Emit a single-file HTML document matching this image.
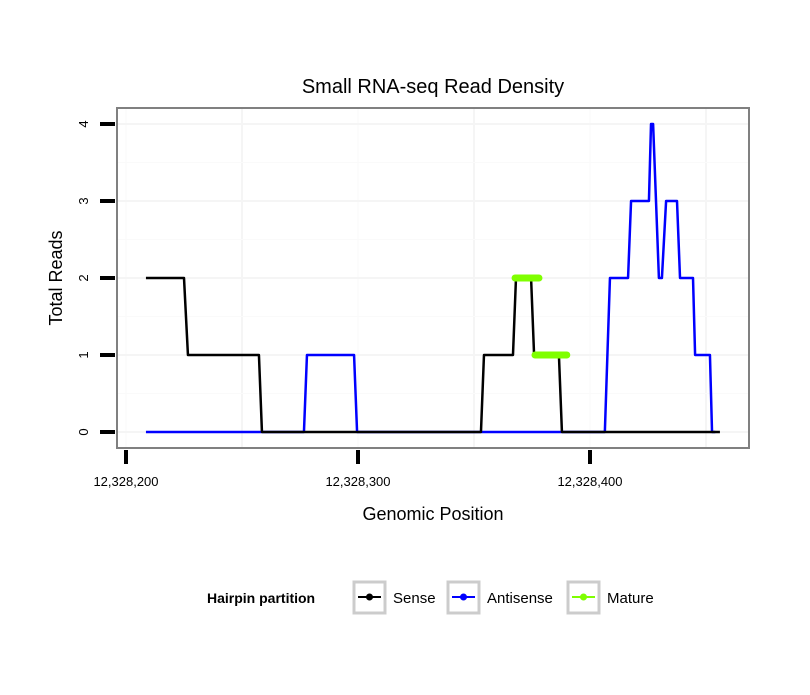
<!DOCTYPE html>
<html><head><meta charset="utf-8"><style>
body{margin:0;background:#fff;font-family:"Liberation Sans",sans-serif}
</style></head><body>
<svg id="chart" width="810" height="690" xmlns="http://www.w3.org/2000/svg" font-family="Liberation Sans, sans-serif">
<rect width="810" height="690" fill="#fff"/>
<text x="433" y="93" text-anchor="middle" font-size="20">Small RNA-seq Read Density</text>
<g id="grid"></g>
<g id="series"></g>
<rect x="117" y="108" width="632" height="340" fill="none" stroke="#808080" stroke-width="2"/>
<g id="axes"></g>
<text x="433" y="520" text-anchor="middle" font-size="18">Genomic Position</text>
<text transform="translate(62,278) rotate(-90)" text-anchor="middle" font-size="18">Total Reads</text>
<g>
<text x="207" y="603" font-size="14" font-weight="bold">Hairpin partition</text>
<g>
<rect x="354" y="582" width="31" height="31" fill="#fff" stroke="#ccc" stroke-width="3"/>
<line x1="358" y1="597" x2="381" y2="597" stroke="#000" stroke-width="2"/><circle cx="369.5" cy="597" r="3.5" fill="#000"/>
<text x="393" y="603" font-size="15">Sense</text></g>
<g>
<rect x="448" y="582" width="31" height="31" fill="#fff" stroke="#ccc" stroke-width="3"/>
<line x1="452" y1="597" x2="475" y2="597" stroke="#00f" stroke-width="2"/><circle cx="463.5" cy="597" r="3.5" fill="#00f"/>
<text x="487" y="603" font-size="15">Antisense</text></g>
<g>
<rect x="568" y="582" width="31" height="31" fill="#fff" stroke="#ccc" stroke-width="3"/>
<line x1="572" y1="597" x2="595" y2="597" stroke="#7fff00" stroke-width="2"/><circle cx="583.5" cy="597" r="3.5" fill="#7fff00"/>
<text x="607" y="603" font-size="15">Mature</text></g>
</g>
</svg>
<script>
const senseX=[208.6,225,226.7,257.3,258.6,353,354.3,366.8,368.1,374.6,375.9,386.6,387.9,456];
const senseY=[2,2,1,1,0,0,1,1,2,2,1,1,0,0];
const antiX=[208.6,276.7,278,298.3,299.6,406.4,408.6,416.4,417.7,425.4,426.3,427.2,429.7,431,432.8,437.5,438.8,444.4,445.3,451.7,452.6,454];
const antiY=[0,0,1,1,0,0,2,2,3,3,4,4,2,2,3,3,2,2,1,1,0,0];
const matureSegs=[[367.7,378,2],[376.3,390,1]];
const xTicks=[12328200,12328300,12328400];
const xTickLabels=["12,328,200","12,328,300","12,328,400"];
const yTicks=[0,1,2,3,4];
const NS="http://www.w3.org/2000/svg";
const sx=v=>126+(v-200)*2.32;
const sxAbs=v=>sx(v-12328000);
const sy=v=>432-v*77;
function mk(tag,attrs,parent){const e=document.createElementNS(NS,tag);for(const k in attrs)e.setAttribute(k,attrs[k]);parent.appendChild(e);return e;}
const grid=document.getElementById('grid'),series=document.getElementById('series'),axes=document.getElementById('axes');
mk('rect',{x:117,y:108,width:632,height:340,fill:'#fff'},grid);
for(let v=200;v<=450;v+=50){const l=mk('line',{x1:sx(v),x2:sx(v),y1:108,y2:448,stroke:(v%100===50)?'#f5f5f5':'#fafafa','stroke-width':(v%100===50)?2:1},grid);

}
for(let v=-0.5;v<=4.5;v+=0.5){const y=sy(v);if(y<108||y>448)continue;const l=mk('line',{x1:117,x2:749,y1:y,y2:y,stroke:(v%1===0)?'#f5f5f5':'#fafafa','stroke-width':(v%1===0)?2:1},grid);

}
function line(xs,ys,color,name){const p=mk('polyline',{points:xs.map((x,i)=>sx(x)+','+sy(ys[i])).join(' '),fill:'none',stroke:color,'stroke-width':2.5,'stroke-linejoin':'round'},series);

}
line(antiX,antiY,'#00f','antisense-line');
line(senseX,senseY,'#000','sense-line');
matureSegs.forEach(s=>{const l=mk('line',{x1:sx(s[0]),x2:sx(s[1]),y1:sy(s[2]),y2:sy(s[2]),stroke:'#7fff00','stroke-width':7,'stroke-linecap':'round'},series);

});
xTicks.forEach((t,i)=>{const x=sxAbs(t);const l=mk('line',{x1:x,x2:x,y1:450,y2:464,stroke:'#000','stroke-width':4},axes);


const tx=mk('text',{x:x,y:486,'text-anchor':'middle','font-size':13},axes);tx.textContent=xTickLabels[i];

});
yTicks.forEach(t=>{const y=sy(t);const l=mk('line',{x1:100,x2:115,y1:y,y2:y,stroke:'#000','stroke-width':4},axes);


const tx=mk('text',{transform:`translate(88,${y}) rotate(-90)`,'text-anchor':'middle','font-size':13},axes);tx.textContent=t;

});
</script>
</body></html>
